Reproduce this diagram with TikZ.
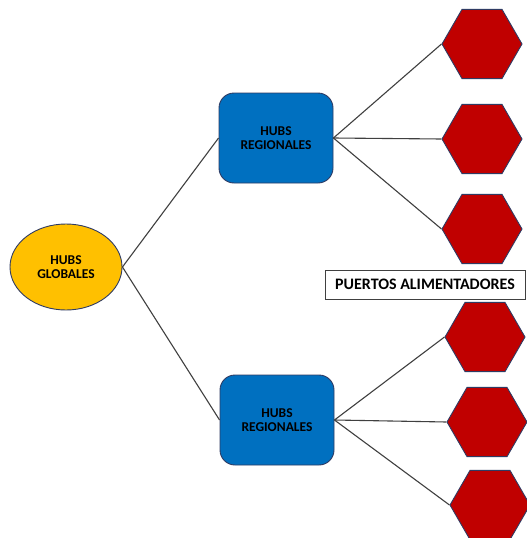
\documentclass[tikz,border=0pt]{standalone}
\usepackage{fontspec}
\setmainfont{Carlito}
\usetikzlibrary{shapes.geometric}

\definecolor{hubgold}{HTML}{FFC000}
\definecolor{hubblue}{HTML}{0070C0}
\definecolor{portred}{HTML}{C00000}
\definecolor{rimblue}{HTML}{2F3B63}
\definecolor{linkgray}{HTML}{404040}

\begin{document}
\begin{tikzpicture}[x=1pt,y=-1pt,
  globalhub/.style={ellipse,draw=rimblue,line width=0.9pt,fill=hubgold,
    minimum width=112pt,minimum height=86pt,inner sep=0pt,
    font=\fontsize{13.5}{14}\selectfont\bfseries,align=center},
  reghub/.style={rectangle,rounded corners=15pt,draw=rimblue,line width=0.9pt,fill=hubblue,
    minimum width=114pt,minimum height=90pt,inner sep=0pt,
    font=\fontsize{13.5}{14}\selectfont\bfseries,align=center},
  port/.style={regular polygon,regular polygon sides=6,
    draw=rimblue,line width=0.9pt,fill=portred,minimum size=80pt,inner sep=0pt},
  link/.style={draw=linkgray,line width=1.1pt}]
\clip (0,0) rectangle (527,538);
\fill[white] (0,0) rectangle (527,538);

% hubs
\node[globalhub] (global) at (66,267) {HUBS\\GLOBALES};
\node[reghub] (regA) at (276,138) {HUBS\\REGIONALES};
\node[reghub] (regB) at (277,420) {HUBS\\REGIONALES};

% feeder ports
\node[port] (p1) at (482,44) {};
\node[port] (p2) at (482,139) {};
\node[port] (p3) at (482,229) {};
\node[port] (p4) at (485,337) {};
\node[port] (p5) at (487,422) {};
\node[port] (p6) at (490,505) {};

\node[draw=linkgray,line width=0.9pt,fill=white,minimum width=200pt,minimum height=29pt,
  inner sep=0pt,font=\fontsize{16}{18}\selectfont\bfseries] (feed) at (425,284.5)
  {PUERTOS ALIMENTADORES};

% links
\draw[link] (global.east) -- (regA.west);
\draw[link] (global.east) -- (regB.west);
\draw[link] (regA.east) -- (p1.west);
\draw[link] (regA.east) -- (p2.west);
\draw[link] (regA.east) -- (p3.west);
\draw[link] (regB.east) -- (p4.west);
\draw[link] (regB.east) -- (p5.west);
\draw[link] (regB.east) -- (p6.west);
\end{tikzpicture}
\end{document}
